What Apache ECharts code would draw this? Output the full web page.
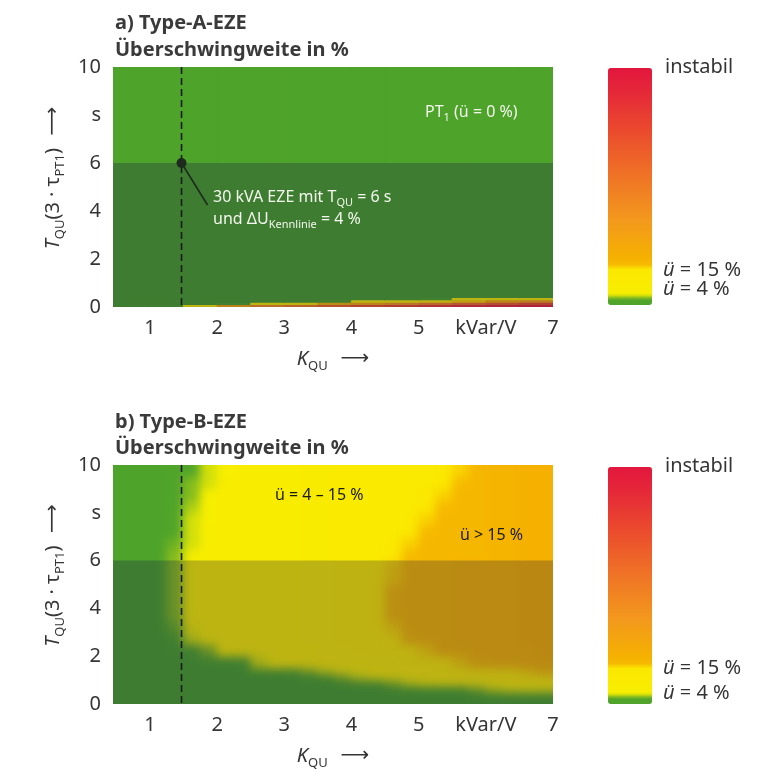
<!DOCTYPE html>
<html>
<head>
<meta charset="utf-8">
<script src="https://cdn.jsdelivr.net/npm/echarts@6/dist/echarts.min.js"></script>
<style>
  html, body { margin: 0; padding: 0; background: #ffffff; }
  #stage { position: relative; width: 764px; height: 769px; }
  #chart { position: absolute; left: 0; top: 0; width: 764px; height: 769px; }
  /* soft field of plot b sits under the main chart, cut to its plot rectangle */
  #fieldClip { position: absolute; left: 113px; top: 465px; width: 440px; height: 239px; overflow: hidden; }
  #field { position: absolute; left: -20px; top: -20px; width: 480px; height: 279px; filter: blur(5px); }
</style>
</head>
<body>
<div id="stage">
  <div id="fieldClip"><div id="field"></div></div>
  <div id="chart"></div>
</div>
<script>
// ---- axes -------------------------------------------------------------
const kRange = [0.45, 7];                 // K_QU in kVar/V
const tRange = [0, 10];                   // T_QU in s
const kTicks = [1, 2, 3, 4, 5, 6, 7];
const tTicks = [0, 2, 4, 6, 8, 10];
const kTickText = { 6: 'kVar/V' };
const tTickText = { 8: 's' };

// ---- operating point of the 30 kVA unit ----------------------------------
const operatingK = 1.47;
const operatingT = 6;

// ---- overshoot in % (100 = instabil), one row per T band, bottom to top ---
const typeA_kEdges = [0.45, 1, 1.5, 2, 2.5, 3, 3.5, 4, 4.5, 5, 5.5, 6, 6.5, 7];
const typeA_tEdges = [0, 0.1, 0.2, 0.3, 0.4, 10];
const typeA_overshoot = [
  [0, 1, 8, 25, 40, 50, 60, 68, 74, 80, 84, 88, 90],
  [0, 0, 0, 2, 6, 12, 18, 25, 35, 45, 55, 62, 70],
  [0, 0, 0, 0, 0, 0, 2, 5, 8, 12, 16, 22, 30],
  [0, 0, 0, 0, 0, 0, 0, 0, 0, 2, 5, 8, 12],
  [0, 0, 0, 0, 0, 0, 0, 0, 0, 0, 0, 0, 0]
];

const typeB_kEdges = [0.45, 0.75, 1, 1.25, 1.5, 1.75, 2, 2.25, 2.5, 2.75, 3, 3.25, 3.5,
                      3.75, 4, 4.25, 4.5, 4.75, 5, 5.25, 5.5, 5.75, 6, 6.25, 6.5, 6.75, 7];
const typeB_tEdges = [0, 0.25, 0.5, 0.75, 1, 1.25, 1.5, 2, 2.5, 3, 3.5, 4, 4.5, 5, 5.5,
                      6, 6.5, 7, 7.5, 8, 8.5, 9, 9.5, 10];
const typeB_overshoot = [
  [0,0,0,0,0,0,0,0,0,0,0,0,0,0,0,0,0,0,0,0,0,0,0,0,0,0],
  [0,0,0,0,0,0,0,0,0,0,0,0,0,0,0,0,0,0,0,0,0,0,0.5,1,1.5,2],
  [0,0,0,0,0,0,0,0,0,0,0,0,0,0,0,0,0,0.5,0.5,1,2,3,4,4.5,5,5.5],
  [0,0,0,0,0,0,0,0,0,0,0,0,0,0.5,1,2,3,4,4.5,5,6,7,7,8,9,10],
  [0,0,0,0,0,0,0,0,0,0,0.5,1,2,3,4,4.5,5,6,7,8,9,10,11,12,13,14],
  [0,0,0,0,0,0,0,0,0.5,1,2,3,4,4.5,5,6,7,7,8,9,10,11,12,14,16,17],
  [0,0,0,0,0,0.5,1,2,4,5,6,7,7,8,8,9,9,10,11,14,16,17,18,18,19,19],
  [0,0,0,0.5,1,3,5,6,7,7,8,8,9,9,10,10,11,14,16,18,18,19,19,19,19,20],
  [0,0,0,2,4,5,6,7,7,8,8,9,9,10,10,11,15,17,18,18,19,19,19,19,20,20],
  [0,0,0,2.5,4.5,6,6,7,7,8,8,9,9,10,11,14,16,18,18,18,19,19,19,19,20,20],
  [0,0,0,3,5,6,6,7,7,8,8,9,9,10,11,15,17,18,18,18,19,19,19,19,20,20],
  [0,0,0,3,5,6,6,7,7,8,8,9,9,10,11,15,17,18,18,18,19,19,19,19,20,20],
  [0,0,0,3,5,6,6,7,7,8,8,9,9,10,11,15,17,18,18,18,19,19,19,19,20,20],
  [0,0,0,3,5,6,6,7,7,8,8,9,9,10,10,14,16,18,18,18,19,19,19,19,20,20],
  [0,0,0,3,5,6,6,7,7,8,8,9,9,10,10,14,16,18,18,18,19,19,19,19,20,20],
  [0,0,0,3,4.5,6,6,7,7,8,8,9,9,10,10,11,15,17,18,18,18,18,19,19,20,20],
  [0,0,0,2.5,4,6,6,7,7,8,8,9,9,10,10,11,14,16,18,18,18,18,19,19,20,20],
  [0,0,0,2,4,6,6,7,7,8,8,9,9,10,10,11,11,15,17,18,18,18,19,19,20,20],
  [0,0,0,2,4,5,6,7,7,8,8,9,9,10,10,11,11,14,16,18,18,18,19,19,20,20],
  [0,0,0,2,3.5,5,6,7,7,8,8,9,9,10,10,11,11,12,15,17,18,18,19,19,20,20],
  [0,0,0,1,3,5,6,7,7,8,8,9,9,10,10,11,11,12,14,16,18,18,19,19,20,20],
  [0,0,0,1,3,4,6,7,7,8,8,9,9,10,10,11,11,12,12,15,17,18,19,19,20,20],
  [0,0,0,1,2,4,5,6,7,8,8,9,9,10,10,11,11,12,12,14,16,18,19,19,20,20]
];

// ---- colour scale --------------------------------------------------------
const scaleMin = 0, scaleMax = 100;
const colorStops = [
  [0, '#4ea32a'], [2, '#52a52a'], [3, '#86bc1e'], [4, '#d2df0a'], [4.6, '#f7ee00'],
  [15, '#fbe700'], [17, '#f6bb00'], [20, '#f5b000'], [35, '#f39a1c'],
  [55, '#ef7226'], [75, '#ea472e'], [90, '#e52839'], [100, '#e2163d']
];
function hexToRgb(h) { return [1, 3, 5].map(i => parseInt(h.substr(i, 2), 16)); }
function colorAt(v) {
  for (let i = 1; i < colorStops.length; i++) {
    const [v1, c1] = colorStops[i];
    const [v0, c0] = colorStops[i - 1];
    if (v <= v1) {
      const f = (v - v0) / (v1 - v0);
      const a = hexToRgb(c0), b = hexToRgb(c1);
      return 'rgb(' + a.map((x, j) => Math.round(x + (b[j] - x) * f)).join(',') + ')';
    }
  }
  return colorStops[colorStops.length - 1][1];
}
const palette = [];
for (let i = 0; i <= 400; i++) palette.push(colorAt(i * 0.25));

const FONT = '"Noto Sans", "DejaVu Sans", sans-serif';
const TEXT = '#353535';

function buildCells(kEdges, tEdges, rows) {
  const out = [];
  rows.forEach((row, j) => row.forEach((v, i) => {
    out.push([(kEdges[i] + kEdges[i + 1]) / 2, (tEdges[j] + tEdges[j + 1]) / 2, v,
              kEdges[i], kEdges[i + 1], tEdges[j], tEdges[j + 1]]);
  }));
  return out;
}

// cells on the plot border are stretched outward by `bleed` px so the soft
// layer keeps full colour up to the clipped edge
function cellRenderer(bleed) {
  return function (params, api) {
    const k0 = api.value(3), k1 = api.value(4), t0 = api.value(5), t1 = api.value(6);
    const p0 = api.coord([k0, t1]);
    const p1 = api.coord([k1, t0]);
    let x0 = p0[0] - 0.5, y0 = p0[1] - 0.5, x1 = p1[0] + 0.5, y1 = p1[1] + 0.5;
    if (bleed) {
      if (k0 <= kRange[0]) x0 -= bleed;
      if (k1 >= kRange[1]) x1 += bleed;
      if (t0 <= tRange[0]) y1 += bleed;
      if (t1 >= tRange[1]) y0 -= bleed;
    }
    return {
      type: 'rect',
      shape: { x: x0, y: y0, width: x1 - x0, height: y1 - y0 },
      style: { fill: api.visual('color') }
    };
  };
}

function renderShade(params, api) {
  const cs = params.coordSys;
  const y = api.coord([kRange[0], api.value(0)])[1];
  return {
    type: 'rect',
    shape: { x: cs.x, y: y, width: cs.width, height: cs.y + cs.height - y },
    style: { fill: 'rgba(20,20,70,0.26)' }
  };
}

function renderDashed(params, api) {
  const cs = params.coordSys;
  const x = api.coord([api.value(0), tRange[0]])[0];
  return {
    type: 'line',
    shape: { x1: x, y1: cs.y, x2: x, y2: cs.y + cs.height },
    style: { stroke: '#1a1a1a', lineWidth: 1.6, lineDash: [7, 4] }
  };
}

function renderPoint(params, api) {
  const p = api.coord([api.value(0), api.value(1)]);
  return {
    type: 'group',
    children: [
      { type: 'line', shape: { x1: p[0], y1: p[1], x2: p[0] + 26, y2: p[1] + 42 },
        style: { stroke: '#1d2a1d', lineWidth: 1.6 } },
      { type: 'circle', shape: { cx: p[0], cy: p[1], r: 5 }, style: { fill: '#1d2a1d' } }
    ]
  };
}

const subRich = {
  it: { fontFamily: FONT, fontSize: 20, fontStyle: 'italic', color: TEXT, lineHeight: 28 },
  itp: { fontFamily: FONT, fontSize: 20, fontStyle: 'italic', color: TEXT, lineHeight: 28, padding: [0, 0, 0, 18] },
  n: { fontFamily: FONT, fontSize: 20, color: TEXT, lineHeight: 28 },
  sub: { fontFamily: FONT, fontSize: 13, color: TEXT, lineHeight: 28, verticalAlign: 'bottom' },
  arr: { fontFamily: '"DejaVu Sans", sans-serif', fontSize: 20, color: TEXT, lineHeight: 28 }
};

function xAxisFor(gridIndex) {
  return {
    type: 'value', gridIndex, min: kRange[0], max: kRange[1],
    axisLine: { show: false }, axisTick: { show: false }, splitLine: { show: false },
    axisLabel: {
      customValues: kTicks, formatter: v => kTickText[v] || String(v),
      fontFamily: FONT, fontSize: 20, color: TEXT, margin: 11
    },
    name: '{it|K}{sub|QU}{arr|  ⟶}', nameLocation: 'middle', nameGap: 38,
    nameTextStyle: { rich: subRich }
  };
}
function yAxisFor(gridIndex) {
  return {
    type: 'value', gridIndex, min: tRange[0], max: tRange[1],
    axisLine: { show: false }, axisTick: { show: false }, splitLine: { show: false },
    axisLabel: {
      customValues: tTicks, formatter: v => tTickText[v] || String(v),
      fontFamily: FONT, fontSize: 20, color: TEXT, margin: 12
    },
    name: '{itp|T}{sub|QU}{n|(3 · τ}{sub|PT1}{n|)}{arr|  ⟶}',
    nameLocation: 'middle', nameRotate: 90, nameGap: 38,
    nameTextStyle: { rich: subRich }
  };
}

function colourBar(top) {
  return {
    type: 'continuous', seriesIndex: 0, dimension: 2, min: scaleMin, max: scaleMax,
    calculable: false, hoverLink: false, realtime: false, orient: 'vertical',
    left: 608, top, itemWidth: 44, itemHeight: 237, padding: 0,
    inRange: { color: palette }
  };
}

function txt(x, y, text, opts) {
  return {
    type: 'text', x, y, z: 100,
    style: Object.assign({
      text, fontFamily: FONT, fontSize: 17, fill: TEXT, verticalAlign: 'middle', align: 'left'
    }, opts || {})
  };
}
const legendRich = {
  u: { fontFamily: FONT, fontSize: 20, fontStyle: 'italic', fill: TEXT },
  n: { fontFamily: FONT, fontSize: 20, fill: TEXT }
};
const LIGHT = '#f3f7ee';
const whiteRich = {
  n: { fontFamily: FONT, fontSize: 16, fill: LIGHT },
  s: { fontFamily: FONT, fontSize: 11, fill: LIGHT, verticalAlign: 'bottom', lineHeight: 22 }
};

// ---- soft field layer for plot b -------------------------------------------
const field = echarts.init(document.getElementById('field'), null, { renderer: 'canvas' });
field.setOption({
  animation: false,
  grid: { left: 20, top: 20, width: 440, height: 239, outerBoundsMode: 'none' },
  xAxis: { type: 'value', min: kRange[0], max: kRange[1], show: false },
  yAxis: { type: 'value', min: tRange[0], max: tRange[1], show: false },
  visualMap: { type: 'continuous', show: false, seriesIndex: 0, dimension: 2,
               min: scaleMin, max: scaleMax, inRange: { color: palette } },
  series: [{
    type: 'custom', name: 'Type-B-EZE', clip: false, renderItem: cellRenderer(20),
    encode: { x: 0, y: 1 }, data: buildCells(typeB_kEdges, typeB_tEdges, typeB_overshoot)
  }]
});

// ---- main chart ------------------------------------------------------------
const chart = echarts.init(document.getElementById('chart'), null, { renderer: 'canvas' });
chart.setOption({
  backgroundColor: 'transparent',
  animation: false,
  grid: [
    { left: 113, top: 67, width: 440, height: 240, outerBoundsMode: 'none' },
    { left: 113, top: 465, width: 440, height: 239, outerBoundsMode: 'none' }
  ],
  xAxis: [xAxisFor(0), xAxisFor(1)],
  yAxis: [yAxisFor(0), yAxisFor(1)],
  visualMap: [colourBar(68), colourBar(467)],
  series: [
    { type: 'custom', name: 'Type-A-EZE', xAxisIndex: 0, yAxisIndex: 0, clip: true, z: 2,
      renderItem: cellRenderer(0), encode: { x: 0, y: 1 },
      data: buildCells(typeA_kEdges, typeA_tEdges, typeA_overshoot) },
    { type: 'custom', xAxisIndex: 0, yAxisIndex: 0, z: 3, renderItem: renderShade, data: [[operatingT]], silent: true },
    { type: 'custom', xAxisIndex: 1, yAxisIndex: 1, z: 3, renderItem: renderShade, data: [[operatingT]], silent: true },
    { type: 'custom', xAxisIndex: 0, yAxisIndex: 0, z: 4, renderItem: renderDashed, data: [[operatingK]], silent: true },
    { type: 'custom', xAxisIndex: 1, yAxisIndex: 1, z: 4, renderItem: renderDashed, data: [[operatingK]], silent: true },
    { type: 'custom', xAxisIndex: 0, yAxisIndex: 0, z: 5, renderItem: renderPoint, data: [[operatingK, operatingT]], silent: true }
  ],
  graphic: [
    txt(115, 23, 'a) Type-A-EZE', { fontSize: 20, fontWeight: 'bold', fill: '#3a3a3a' }),
    txt(115, 50, 'Überschwingweite in %', { fontSize: 20, fontWeight: 'bold', fill: '#3a3a3a' }),
    txt(115, 422, 'b) Type-B-EZE', { fontSize: 20, fontWeight: 'bold', fill: '#3a3a3a' }),
    txt(115, 448, 'Überschwingweite in %', { fontSize: 20, fontWeight: 'bold', fill: '#3a3a3a' }),

    txt(425, 112, '{n|PT}{s|1}{n| (ü = 0 %)}', { rich: whiteRich }),
    txt(213, 197, '{n|30 kVA EZE mit T}{s|QU}{n| = 6 s}', { rich: whiteRich }),
    txt(213, 219, '{n|und ΔU}{s|Kennlinie}{n| = 4 %}', { rich: whiteRich }),

    txt(275, 495, 'ü = 4 – 15 %', { fontSize: 16, fill: '#1a1a1a' }),
    txt(460, 535, 'ü > 15 %', { fontSize: 16, fill: '#1a1a1a' }),

    txt(665, 67, 'instabil', { fontSize: 20 }),
    txt(663, 270, '{u|ü}{n| = 15 %}', { rich: legendRich }),
    txt(663, 289, '{u|ü}{n| = 4 %}', { rich: legendRich }),
    txt(665, 466, 'instabil', { fontSize: 20 }),
    txt(663, 668, '{u|ü}{n| = 15 %}', { rich: legendRich }),
    txt(663, 693, '{u|ü}{n| = 4 %}', { rich: legendRich })
  ]
});
</script>
</body>
</html>
